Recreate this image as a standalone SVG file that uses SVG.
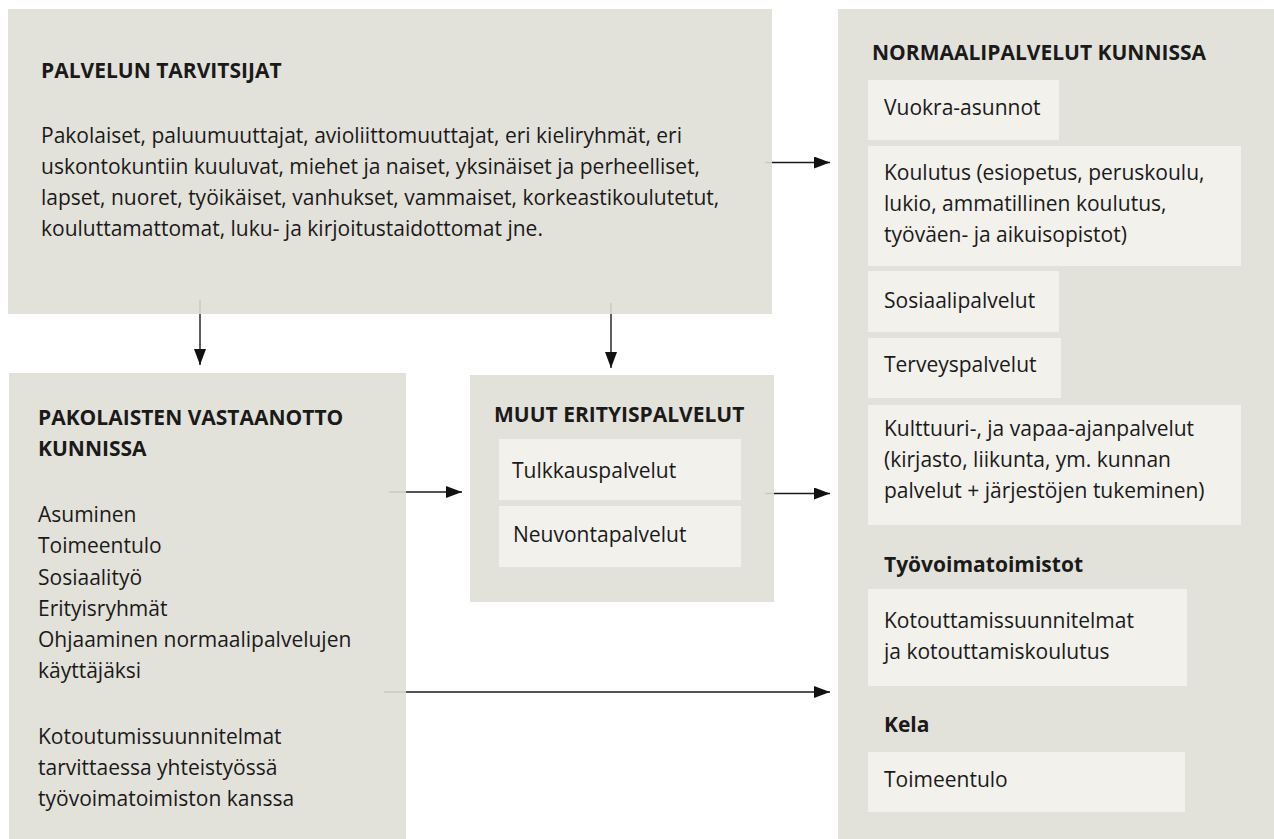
<svg xmlns="http://www.w3.org/2000/svg" width="1274" height="839" viewBox="0 0 1274 839">
<style>
.box{fill:#e3e2da}
.inner{fill:#f2f1ec}
text{font-family:"Open Sans","Noto Sans",sans-serif;font-size:21px;fill:#1a1a1a}
.h{font-weight:700}
.c{stroke:#1a1a1a;stroke-width:1.4;fill:none}
.f{stroke:#c9c8c0;stroke-width:1.4;fill:none}
</style>
<defs>
<marker id="ah" markerWidth="16" markerHeight="12" refX="16" refY="6" orient="auto" markerUnits="userSpaceOnUse"><path d="M0,0 L16,6 L0,12 Z" fill="#111"/></marker>
</defs>
<rect width="1274" height="839" fill="#ffffff"/>
<g id="palvelun-tarvitsijat">
<rect class="box" x="8" y="9" width="764" height="305"/>
<text class="h" x="41" y="78">PALVELUN TARVITSIJAT</text>
<text x="41" y="143">Pakolaiset, paluumuuttajat, avioliittomuuttajat, eri kieliryhmät, eri</text>
<text x="41" y="174">uskontokuntiin kuuluvat, miehet ja naiset, yksinäiset ja perheelliset,</text>
<text x="41" y="205">lapset, nuoret, työikäiset, vanhukset, vammaiset, korkeastikoulutetut,</text>
<text x="41" y="236">kouluttamattomat, luku- ja kirjoitustaidottomat jne.</text>
</g>
<g id="normaalipalvelut">
<rect class="box" x="838" y="9" width="436" height="830"/>
<text class="h" x="872" y="60">NORMAALIPALVELUT KUNNISSA</text>
<rect class="inner" x="868" y="80" width="191" height="60"/>
<text x="884" y="115">Vuokra-asunnot</text>
<rect class="inner" x="868" y="146" width="373" height="120"/>
<text x="884" y="180">Koulutus (esiopetus, peruskoulu,</text>
<text x="884" y="211">lukio, ammatillinen koulutus,</text>
<text x="884" y="242">työväen- ja aikuisopistot)</text>
<rect class="inner" x="868" y="271" width="191" height="61"/>
<text x="884" y="308">Sosiaalipalvelut</text>
<rect class="inner" x="868" y="338" width="193" height="60"/>
<text x="884" y="372">Terveyspalvelut</text>
<rect class="inner" x="868" y="405" width="373" height="120"/>
<text x="884" y="436">Kulttuuri-, ja vapaa-ajanpalvelut</text>
<text x="884" y="467">(kirjasto, liikunta, ym. kunnan</text>
<text x="884" y="498">palvelut + järjestöjen tukeminen)</text>
<text class="h" x="884" y="572">Työvoimatoimistot</text>
<rect class="inner" x="868" y="589" width="319" height="97"/>
<text x="884" y="628">Kotouttamissuunnitelmat</text>
<text x="884" y="659">ja kotouttamiskoulutus</text>
<text class="h" x="884" y="732">Kela</text>
<rect class="inner" x="868" y="752" width="317" height="60"/>
<text x="884" y="787">Toimeentulo</text>
</g>
<g id="pakolaisten-vastaanotto">
<rect class="box" x="9" y="373" width="397" height="466"/>
<text class="h" x="38" y="425">PAKOLAISTEN VASTAANOTTO</text>
<text class="h" x="38" y="456">KUNNISSA</text>
<text x="38" y="522">Asuminen</text>
<text x="38" y="553">Toimeentulo</text>
<text x="38" y="585">Sosiaalityö</text>
<text x="38" y="616">Erityisryhmät</text>
<text x="38" y="647">Ohjaaminen normaalipalvelujen</text>
<text x="38" y="678">käyttäjäksi</text>
<text x="38" y="744">Kotoutumissuunnitelmat</text>
<text x="38" y="775">tarvittaessa yhteistyössä</text>
<text x="38" y="806">työvoimatoimiston kanssa</text>
</g>
<g id="muut-erityispalvelut">
<rect class="box" x="470" y="375" width="304" height="227"/>
<text class="h" x="494" y="422">MUUT ERITYISPALVELUT</text>
<rect class="inner" x="499" y="439" width="242" height="61"/>
<text x="512" y="478">Tulkkauspalvelut</text>
<rect class="inner" x="499" y="506" width="242" height="61"/>
<text x="513" y="542">Neuvontapalvelut</text>
</g>
<g id="connectors">
<line class="f" x1="765" y1="162.5" x2="772" y2="162.5"/>
<line class="c" x1="772" y1="162.5" x2="830" y2="162.5" marker-end="url(#ah)"/>
<line class="f" x1="200" y1="300" x2="200" y2="314"/>
<line class="c" x1="200" y1="314" x2="200" y2="365" marker-end="url(#ah)"/>
<line class="f" x1="611" y1="303" x2="611" y2="314"/>
<line class="c" x1="611" y1="314" x2="611" y2="368" marker-end="url(#ah)"/>
<line class="f" x1="389" y1="492" x2="406" y2="492"/>
<line class="c" x1="406" y1="492" x2="462" y2="492" marker-end="url(#ah)"/>
<line class="f" x1="765" y1="493.5" x2="774" y2="493.5"/>
<line class="c" x1="774" y1="493.5" x2="830" y2="493.5" marker-end="url(#ah)"/>
<line class="f" x1="384" y1="692" x2="406" y2="692"/>
<line class="c" x1="406" y1="692" x2="830" y2="692" marker-end="url(#ah)"/>
</g>
</svg>
